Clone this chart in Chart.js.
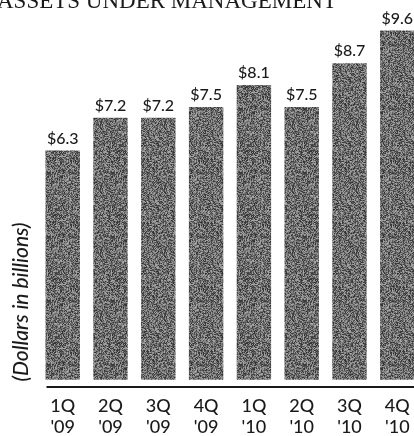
<!DOCTYPE html>
<html>
<head>
<meta charset="utf-8">
<title>Assets Under Management</title>
<script src="https://cdn.jsdelivr.net/npm/chart.js@4.4.1/dist/chart.umd.min.js"></script>
<style>
    html, body { margin: 0; padding: 0; background: #fff; overflow: hidden; }
    #wrap { position: absolute; left: 0; top: 0; width: 430px; height: 440px; }
</style>
</head>
<body>
<div id="wrap"><canvas id="aumChart" width="430" height="440"></canvas></div>
<script>
// === data ===
const quarters = ["1Q", "2Q", "3Q", "4Q", "1Q", "2Q", "3Q", "4Q"];
const years = ["'09", "'09", "'09", "'09", "'10", "'10", "'10", "'10"];
const assets = [6.3, 7.2, 7.2, 7.5, 8.1, 7.5, 8.7, 9.6];

const TITLE = "ASSETS UNDER MANAGEMENT";
const Y_TITLE = "(Dollars in billions)";
const INK = "#1a1a1a";

// grainy gray fill like the printed halftone
function makeGrain() {
    const c = document.createElement("canvas");
    c.width = 64;
    c.height = 64;
    const g = c.getContext("2d");
    const img = g.createImageData(64, 64);
    for (let y = 0; y < 64; y++) {
        for (let x = 0; x < 64; x++) {
            let h = (x * 374761393 + y * 668265263) | 0;
            h = Math.imul(h ^ (h >>> 13), 1274126177);
            h = (h ^ (h >>> 16)) & 255;
            const v = 45 + Math.round(h * 0.5);
            const i = (y * 64 + x) * 4;
            img.data[i] = img.data[i + 1] = img.data[i + 2] = v;
            img.data[i + 3] = 255;
        }
    }
    g.putImageData(img, 0, 0);
    return g.createPattern(c, "repeat");
}

const ctx = document.getElementById("aumChart").getContext("2d");

// title, y caption, baseline and value labels
const decorations = {
    id: "decorations",
    afterDatasetsDraw(chart) {
        const c = chart.ctx;
        const area = chart.chartArea;
        const bars = chart.getDatasetMeta(0).data;

        c.save();
        c.fillStyle = INK;

        c.font = "23px 'Liberation Serif'";
        c.textAlign = "left";
        c.textBaseline = "alphabetic";
        c.fillText(TITLE, -3, 7.5);

        c.font = "500 16px Lato";
        c.textAlign = "center";
        bars.forEach((bar, i) => {
            c.fillText("$" + assets[i].toFixed(1), bar.x, bar.y - 7);
        });

        c.save();
        c.translate(21, 302);
        c.rotate(-Math.PI / 2);
        c.font = "italic 500 21px Lato";
        c.textBaseline = "middle";
        c.fillText(Y_TITLE, 0, 0);
        c.restore();

        const first = bars[0];
        c.strokeStyle = INK;
        c.lineWidth = 2;
        c.beginPath();
        c.moveTo(first.x - first.width / 2 + 1, area.bottom);
        c.lineTo(chart.width, area.bottom);
        c.stroke();
        c.restore();
    }
};

new Chart(ctx, {
    type: "bar",
    data: {
        labels: quarters.map((q, i) => [q, years[i]]),
        datasets: [{
            data: assets,
            backgroundColor: makeGrain(),
            borderWidth: 0,
            categoryPercentage: 1,
            barPercentage: 0.72,
        }]
    },
    options: {
        responsive: false,
        animation: false,
        devicePixelRatio: 1,
        layout: {
            padding: { left: 38.8, right: 8.8, top: 16, bottom: 1 }
        },
        scales: {
            x: {
                grid: { display: false },
                border: { display: false },
                ticks: {
                    color: INK,
                    padding: 1,
                    maxRotation: 0,
                    autoSkip: false,
                    font: { family: "Lato", size: 18, weight: "500", lineHeight: "21px" },
                }
            },
            y: {
                display: false,
                min: -0.2,
                max: 10,
            }
        },
        plugins: {
            legend: { display: false },
            tooltip: { enabled: false }
        }
    },
    plugins: [decorations]
});
</script>
</body>
</html>
